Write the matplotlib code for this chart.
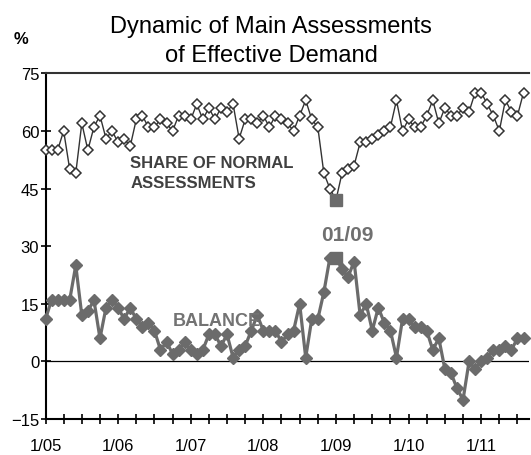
import numpy as np
import matplotlib
matplotlib.use('Agg')
import matplotlib.pyplot as plt

plt.rcParams['font.family'] = ['Liberation Sans', 'DejaVu Sans']

# monthly data, Jan 2005 - Aug 2011
share = [55, 55, 55, 60, 50, 49, 62, 55, 61, 64, 58, 60,
         57, 58, 56, 63, 64, 61, 61, 63, 62, 60, 64, 64,
         63, 67, 63, 66, 63, 66, 65, 67, 58, 63, 63, 62,
         64, 61, 64, 63, 62, 60, 64, 68, 63, 61, 49, 45,
         42, 49, 50, 51, 57, 57, 58, 59, 60, 61, 68, 60,
         63, 61, 61, 64, 68, 62, 66, 64, 64, 66, 65, 70,
         70, 67, 64, 60, 68, 65, 64, 70]
balance = [11, 16, 16, 16, 16, 25, 12, 13, 16, 6, 14, 16,
           14, 11, 14, 11, 9, 10, 8, 3, 5, 2, 3, 5,
           3, 2, 3, 7, 7, 4, 7, 1, 3, 4, 8, 12,
           8, 8, 8, 5, 7, 8, 15, 1, 11, 11, 18, 27,
           27, 24, 22, 26, 12, 15, 8, 14, 10, 8, 1, 11,
           11, 9, 9, 8, 3, 6, -2, -3, -7, -10, 0, -2,
           0, 1, 3, 3, 4, 3, 6, 6]
year_labels = ['1/05', '1/06', '1/07', '1/08', '1/09', '1/10', '1/11']
highlight = 48  # Jan 2009

months = np.arange(len(share))

fig = plt.figure(figsize=(5.31, 4.56), dpi=100)
ax = fig.add_axes([0.0857, 0.079, 0.9105, 0.758])

grey = '#6b6b6b'
dark = '#333333'

ax.axhline(0, color='black', lw=0.9, zorder=1)

ax.plot(months, balance, color=grey, lw=2.3, marker='D', ms=6,
        mfc=grey, mec=grey, clip_on=False, zorder=3)
ax.plot(months, share, color=dark, lw=1.0, marker='D', ms=5.5,
        mfc='white', mec=dark, mew=1.1, clip_on=False, zorder=3)

ax.plot(months[highlight], balance[highlight], marker='s', ms=8.5,
        color=grey, zorder=4)
ax.plot(months[highlight], share[highlight], marker='s', ms=8.5,
        color=grey, zorder=4)

ax.set_xlim(0, 79.9)
ax.set_ylim(-15, 75)
ax.set_yticks(np.arange(-15, 76, 15))
ax.set_xticks(np.arange(0, 79, 3))
xlabels = []
for m in range(0, 79, 3):
    xlabels.append(year_labels[m // 12] if m % 12 == 0 else '')
ax.set_xticklabels(xlabels)

ax.tick_params(direction='inout', length=7, width=1.2, colors='black',
               labelsize=12)
ax.tick_params(axis='x', pad=10)
ax.tick_params(axis='y', pad=1)

ax.spines['right'].set_visible(False)
ax.spines['top'].set_color(dark)
for s in ['left', 'bottom', 'top']:
    ax.spines[s].set_linewidth(1.5)

ax.text(14, 50.6, 'SHARE OF NORMAL', fontsize=12, fontweight='bold',
        color='#404040', va='baseline')
ax.text(14, 45.4, 'ASSESSMENTS', fontsize=12, fontweight='bold',
        color='#404040', va='baseline')
ax.text(21.1, 9.45, 'BALANCE', fontsize=13, fontweight='bold',
        color='#737373', va='baseline')
ax.text(49.8, 31.6, '01/09', fontsize=15, fontweight='bold',
        color='#707070', va='baseline', ha='center')

fig.text(271 / 531, 1 - 27 / 456, 'Dynamic of Main Assessments',
         fontsize=17, ha='center', va='center')
fig.text(271 / 531, 1 - 56 / 456, 'of Effective Demand',
         fontsize=17, ha='center', va='center')
fig.text(21 / 531, 1 - 39 / 456, '%', fontsize=12, fontweight='bold',
         ha='center', va='center')

fig.savefig('out.png', dpi=100)
